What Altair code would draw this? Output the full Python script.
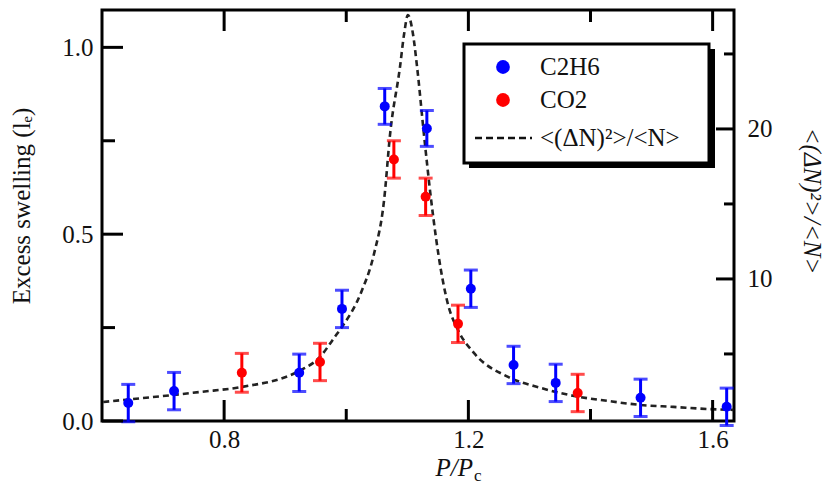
import altair as alt
import pandas as pd

# ---------------- data ----------------
c2h6_x = [0.643, 0.718, 0.923, 0.993, 1.063, 1.132, 1.204, 1.274, 1.343, 1.482, 1.623]
c2h6_y = [0.048, 0.080, 0.129, 0.300, 0.842, 0.783, 0.354, 0.150, 0.102, 0.062, 0.038]
c2h6_err = [0.05, 0.05, 0.05, 0.05, 0.048, 0.048, 0.05, 0.05, 0.05, 0.05, 0.05]

co2_x = [0.829, 0.957, 1.078, 1.130, 1.183, 1.379]
co2_y = [0.129, 0.158, 0.700, 0.600, 0.260, 0.075]
co2_err = [0.052, 0.05, 0.05, 0.05, 0.05, 0.05]

curve_x = [0.602, 0.762, 0.829, 0.923, 0.957, 0.980, 0.993, 1.024, 1.045, 1.062, 1.072, 1.088,
           1.095, 1.101, 1.109, 1.116, 1.127, 1.139, 1.155, 1.166, 1.183, 1.209, 1.265,
           1.319, 1.373, 1.428, 1.482, 1.536, 1.592, 1.634]
curve_y = [1.80, 2.47, 2.80, 3.87, 4.80, 6.07, 6.8, 9.07, 11.6, 15.27, 19.73, 24.13,
           26.4, 27.6, 26.4, 24.13, 19.73, 15.27, 10.6, 8.4, 6.6, 5.07, 3.47,
           2.73, 2.2, 1.87, 1.6, 1.47, 1.33, 1.27]

x_major = [0.8, 1.2, 1.6]
x_minor = [1.0, 1.4]
yl_major = [0.0, 0.5, 1.0]
yl_minor = [0.25, 0.75]
yr_major = [10, 20]
yr_minor = [5, 15, 25]

gas_names = ["C2H6", "CO2"]
gas_colors = ["#0000ff", "#ff0000"]
curve_label = "<(ΔN)²>/<N>"

# ---------------- layout / style ----------------
FONT = "Liberation Serif"
FS = 25
TXT = "#111111"
W, H = 632, 411

pts = pd.DataFrame({
    "x": c2h6_x + co2_x,
    "y": c2h6_y + co2_y,
    "err": c2h6_err + co2_err,
    "gas": [gas_names[0]] * len(c2h6_x) + [gas_names[1]] * len(co2_x),
})
curve = pd.DataFrame({"x": curve_x, "r": curve_y})

XS = alt.Scale(domain=[0.6, 1.635], nice=False, zero=False)
YL = alt.Scale(domain=[0.0, 1.1], nice=False, zero=False)
YR = alt.Scale(domain=[0.53, 27.93], nice=False, zero=False)

x_axis = alt.Axis(values=x_major, format=".1f", tickSize=0, domain=False, grid=False,
                  title=None, labelFont=FONT, labelFontSize=FS, labelColor=TXT,
                  labelPadding=6, orient="bottom")
yl_axis = alt.Axis(values=yl_major, format=".1f", tickSize=0, domain=False, grid=False,
                   title=None, labelFont=FONT, labelFontSize=FS, labelColor=TXT,
                   labelPadding=9, orient="left")
yr_axis = alt.Axis(values=yr_major, format="d", tickSize=0, domain=False, grid=False,
                   title=None, labelFont=FONT, labelFontSize=FS, labelColor=TXT,
                   labelPadding=13, orient="right")


def X(f):
    return alt.X(f, type="quantitative", scale=XS, axis=x_axis)


def YLe(f):
    return alt.Y(f, type="quantitative", scale=YL, axis=yl_axis)


def YRe(f):
    return alt.Y(f, type="quantitative", scale=YR, axis=yr_axis)


color = alt.Color("gas:N", scale=alt.Scale(domain=gas_names, range=gas_colors), legend=None)

one = pd.DataFrame({"a": [0]})

# ---------------- right-axis group ----------------
curve_line = alt.Chart(curve).mark_line(
    color="#222222", strokeWidth=2.6, strokeDash=[6, 4], interpolate="monotone"
).encode(x=X("x"), y=YRe("r"))

rt_major = alt.Chart(pd.DataFrame({"v": yr_major})).mark_rule(color="black", strokeWidth=3).encode(
    y=YRe("v"), x=alt.value(W - 18), x2=alt.value(W))
rt_minor = alt.Chart(pd.DataFrame({"v": yr_minor})).mark_rule(color="black", strokeWidth=3).encode(
    y=YRe("v"), x=alt.value(W - 10), x2=alt.value(W))

right_group = alt.layer(curve_line, rt_major, rt_minor)

# ---------------- left-axis group ----------------
base = alt.Chart(pts).transform_calculate(lo="datum.y - datum.err", hi="datum.y + datum.err")
err_rule = base.mark_rule(strokeWidth=3).encode(x=X("x"), y=YLe("lo:Q"), y2="hi:Q", color=color)
cap_lo = base.mark_tick(orient="horizontal", thickness=3, size=14).encode(x=X("x"), y=YLe("lo:Q"), color=color)
cap_hi = base.mark_tick(orient="horizontal", thickness=3, size=14).encode(x=X("x"), y=YLe("hi:Q"), color=color)
dots = base.mark_circle(size=100, opacity=1).encode(x=X("x"), y=YLe("y"), color=color)


def xticks(vals, length):
    d = alt.Chart(pd.DataFrame({"v": vals}))
    b = d.mark_rule(color="black", strokeWidth=3).encode(x=X("v"), y=alt.value(H), y2=alt.value(H - length))
    t = d.mark_rule(color="black", strokeWidth=3).encode(x=X("v"), y=alt.value(0), y2=alt.value(length))
    return [b, t]


lt_major = alt.Chart(pd.DataFrame({"v": yl_major})).mark_rule(color="black", strokeWidth=3).encode(
    y=YLe("v"), x=alt.value(0), x2=alt.value(21))
lt_minor = alt.Chart(pd.DataFrame({"v": yl_minor})).mark_rule(color="black", strokeWidth=3).encode(
    y=YLe("v"), x=alt.value(0), x2=alt.value(13))

# legend box with drop shadow
lg_shadow = alt.Chart(one).mark_rect(color="black").encode(
    x=alt.value(367), x2=alt.value(613), y=alt.value(39), y2=alt.value(158))
lg_box = alt.Chart(one).mark_rect(fill="white", stroke="black", strokeWidth=3).encode(
    x=alt.value(362), x2=alt.value(607), y=alt.value(34), y2=alt.value(153))

legend_layers = [lg_shadow, lg_box]
for i, (name, col) in enumerate(zip(gas_names, gas_colors)):
    yy = 57 + 33 * i
    legend_layers.append(alt.Chart(one).mark_circle(size=190, opacity=1, color=col).encode(
        x=alt.value(401), y=alt.value(yy)))
    legend_layers.append(alt.Chart(one).mark_text(
        text=name, font=FONT, fontSize=FS, color=TXT, align="left", baseline="middle").encode(
        x=alt.value(438), y=alt.value(yy)))
legend_layers.append(alt.Chart(one).mark_rule(color="#111111", strokeWidth=2.6, strokeDash=[7, 4]).encode(
    x=alt.value(373), x2=alt.value(430), y=alt.value(128)))
legend_layers.append(alt.Chart(one).mark_text(
    text=curve_label, font=FONT, fontSize=FS, color=TXT, align="left", baseline="middle").encode(
    x=alt.value(438), y=alt.value(128)))

# axis titles
t_left = alt.Chart(one).mark_text(
    text="Excess swelling (lₑ)", font=FONT, fontSize=FS, color=TXT, angle=270,
    align="center", baseline="middle").encode(x=alt.value(-80), y=alt.value(196))
t_right = alt.Chart(one).mark_text(
    text=curve_label, font=FONT, fontSize=FS, fontStyle="italic", color=TXT, angle=90,
    align="center", baseline="middle").encode(x=alt.value(710), y=alt.value(191))
t_x1 = alt.Chart(one).mark_text(
    text="P/P", font=FONT, fontSize=FS, fontStyle="italic", color=TXT,
    align="right", baseline="alphabetic").encode(x=alt.value(371), y=alt.value(466))
t_x2 = alt.Chart(one).mark_text(
    text="c", font=FONT, fontSize=17, color=TXT,
    align="left", baseline="alphabetic").encode(x=alt.value(372), y=alt.value(471))

left_group = alt.layer(
    err_rule, cap_lo, cap_hi, dots,
    *xticks(x_major, 21), *xticks(x_minor, 12),
    lt_major, lt_minor,
    *legend_layers,
    t_left, t_right, t_x1, t_x2,
)

chart = alt.layer(right_group, left_group).resolve_scale(y="independent").properties(
    width=W, height=H,
    autosize=alt.AutoSizeParams(type="none"),
    padding={"left": 94, "top": 2, "right": 91, "bottom": 66},
    background="white",
).configure_view(stroke="black", strokeWidth=3)

chart.save("out.html", embed_options={"renderer": "svg", "actions": False})
